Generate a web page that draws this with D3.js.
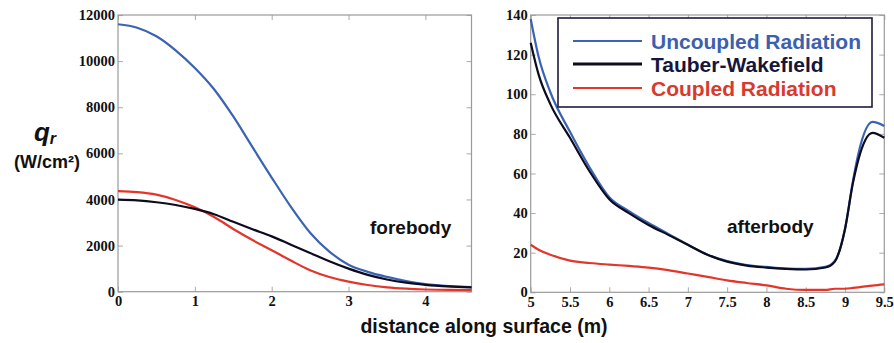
<!DOCTYPE html>
<html><head><meta charset="utf-8">
<script src="https://cdnjs.cloudflare.com/ajax/libs/d3/7.8.5/d3.min.js"></script>
<style>
body{margin:0;background:#fff;}
svg{display:block;}
</style></head><body>
<svg id="chart" width="894" height="343"></svg>
<script>
// ---- Data ----
const seriesNames = ["Uncoupled Radiation", "Tauber-Wakefield", "Coupled Radiation"];
const seriesColors = ["#3a63b3", "#0c0c1e", "#e3362b"];
const legendTextColors = ["#3c60ad", "#15163a", "#d83a2e"];

// forebody (distance m, qr W/cm2)
const foreX = [0, 0.25, 0.5, 0.75, 1.0, 1.25, 1.5, 1.75, 2.0, 2.25, 2.5, 2.75, 3.0, 3.25, 3.5, 3.75, 4.0, 4.3, 4.6];
const foreUncoupled = [11600, 11450, 11080, 10470, 9700, 8780, 7600, 6270, 4950, 3680, 2560, 1740, 1170, 860, 640, 460, 330, 240, 195];
const foreTauber   = [3990, 3960, 3880, 3760, 3590, 3360, 3030, 2710, 2400, 2040, 1680, 1320, 1000, 730, 530, 390, 300, 230, 190];
const foreCoupled  = [4360, 4320, 4210, 3980, 3660, 3240, 2720, 2240, 1800, 1350, 930, 635, 435, 290, 190, 130, 95, 75, 70];

// afterbody
const aftX = [5.0, 5.1, 5.25, 5.5, 5.75, 6.0, 6.25, 6.5, 6.75, 7.0, 7.25, 7.5, 7.75, 8.0, 8.25, 8.5, 8.75, 8.87, 9.0, 9.1, 9.17, 9.35, 9.5];
const aftUncoupled = [138, 119, 101, 81, 63, 48, 41, 35, 29.5, 24, 19, 15.8, 13.8, 12.8, 12, 11.8, 12.8, 15.8, 32, 56, 70, 86, 84];
const aftTauber    = [126, 110, 95, 78, 61, 47, 40, 34, 29, 24, 19, 15.5, 13.5, 12.5, 11.8, 11.5, 12.5, 15.5, 32, 55, 67, 80.5, 78];
const aftCoupled   = [24, 21.5, 19, 16, 14.8, 14, 13.3, 12.5, 11.2, 9.5, 7.8, 6, 4.7, 3.5, 1.8, 1.2, 1.2, 1.8, 1.8, 2.2, 2.5, 3.4, 4];

const foreXTicks = [0, 1, 2, 3, 4];
const foreYTicks = [0, 2000, 4000, 6000, 8000, 10000, 12000];
const aftXTicks = [5, 5.5, 6, 6.5, 7, 7.5, 8, 8.5, 9, 9.5];
const aftYTicks = [0, 20, 40, 60, 80, 100, 120, 140];

const svg = d3.select("#chart");
const SANS = "'Liberation Sans', Arial, sans-serif";
const SERIF = "'Liberation Serif', 'DejaVu Serif', serif";

function panel(opts){
  const {x0,x1,y0,y1,xd,yd,xt,yt,xs,series,label,lx,ly} = opts;
  const x = d3.scaleLinear().domain(xd).range([x0,x1]);
  const y = d3.scaleLinear().domain(yd).range([y1,y0]);
  const g = svg.append("g");
  const tk = 5;
  const gx = g.append("g").attr("transform",`translate(0,${y1})`)
    .call(d3.axisBottom(x).tickValues(xt).tickSize(-tk).tickPadding(8).tickFormat(d=>String(d)));
  const gy = g.append("g").attr("transform",`translate(${x0},0)`)
    .call(d3.axisLeft(y).tickValues(yt).tickSize(-tk).tickPadding(3).tickFormat(d=>String(d)));
  const gt = g.append("g").attr("transform",`translate(0,${y0})`)
    .call(d3.axisTop(x).tickValues(xt).tickSize(-tk).tickFormat(""));
  const gr = g.append("g").attr("transform",`translate(${x1},0)`)
    .call(d3.axisRight(y).tickValues(yt).tickSize(-tk).tickFormat(""));
  [gx,gy,gt,gr].forEach(a=>{
    a.attr("font-family",null).attr("font-size",null);
    a.select(".domain").remove();
    a.selectAll(".tick line").attr("stroke","#aaa").attr("stroke-width",1);
    a.selectAll(".tick text").style("font-family",SERIF).style("font-weight","bold")
      .style("font-size","14.5px").attr("fill","#111");
  });
  gx.selectAll(".tick text").attr("dy","0.45em");
  g.append("rect").attr("x",x0).attr("y",y0).attr("width",x1-x0).attr("height",y1-y0)
    .attr("fill","none").attr("stroke","#9a9a9a").attr("stroke-width",1.2);
  const line = d3.line().x((d,i)=>x(xs[i])).y(d=>y(d)).curve(d3.curveMonotoneX);
  [2,0,1].forEach(k=>{
    g.append("path").attr("d",line(series[k])).attr("fill","none")
      .attr("stroke",seriesColors[k]).attr("stroke-width",2.2);
  });
  g.append("text").attr("x",lx).attr("y",ly).text(label)
    .attr("font-family",SANS).attr("font-weight","bold")
    .attr("font-size",19).attr("fill","#111");
  return {x,y};
}

panel({x0:118,x1:471.5,y0:15,y1:291.7,xd:[0,4.6],yd:[0,12000],xt:foreXTicks,yt:foreYTicks,xs:foreX,
  series:[foreUncoupled,foreTauber,foreCoupled],label:"forebody",lx:370,ly:234});
panel({x0:530.7,x1:884.3,y0:15,y1:292.3,xd:[5,9.5],yd:[0,140],xt:aftXTicks,yt:aftYTicks,xs:aftX,
  series:[aftUncoupled,aftTauber,aftCoupled],label:"afterbody",lx:727,ly:233});

// legend
const lg = svg.append("g");
lg.append("rect").attr("x",558).attr("y",18).attr("width",314).attr("height",89)
  .attr("fill","#fff").attr("stroke","#1c1c3c").attr("stroke-width",1.6);
const rowY = [41, 64, 88];
seriesNames.forEach((n,i)=>{
  lg.append("line").attr("x1",573).attr("x2",642).attr("y1",rowY[i]).attr("y2",rowY[i])
    .attr("stroke",seriesColors[i]).attr("stroke-width",i===1?3:2.2);
  lg.append("text").attr("x",651).attr("y",rowY[i]+7.5).text(n)
    .attr("font-family",SANS).attr("font-weight","bold")
    .attr("font-size",21).attr("fill",legendTextColors[i]);
});

// axis titles
svg.append("text").attr("x",484).attr("y",333).attr("text-anchor","middle")
  .text("distance along surface (m)")
  .attr("font-family",SANS).attr("font-weight","bold")
  .attr("font-size",19.5).attr("fill","#111");
const ql = svg.append("text").attr("x",45).attr("y",141).attr("text-anchor","middle")
  .attr("font-family",SANS).attr("font-weight","bold")
  .attr("font-style","italic").attr("fill","#111");
ql.append("tspan").text("q").attr("font-size",26);
ql.append("tspan").text("r").attr("font-size",16).attr("dy",3);
svg.append("text").attr("x",47).attr("y",168).attr("text-anchor","middle")
  .text("(W/cm²)")
  .attr("font-family",SANS).attr("font-weight","bold")
  .attr("font-size",18).attr("fill","#111");
</script>
</body></html>
